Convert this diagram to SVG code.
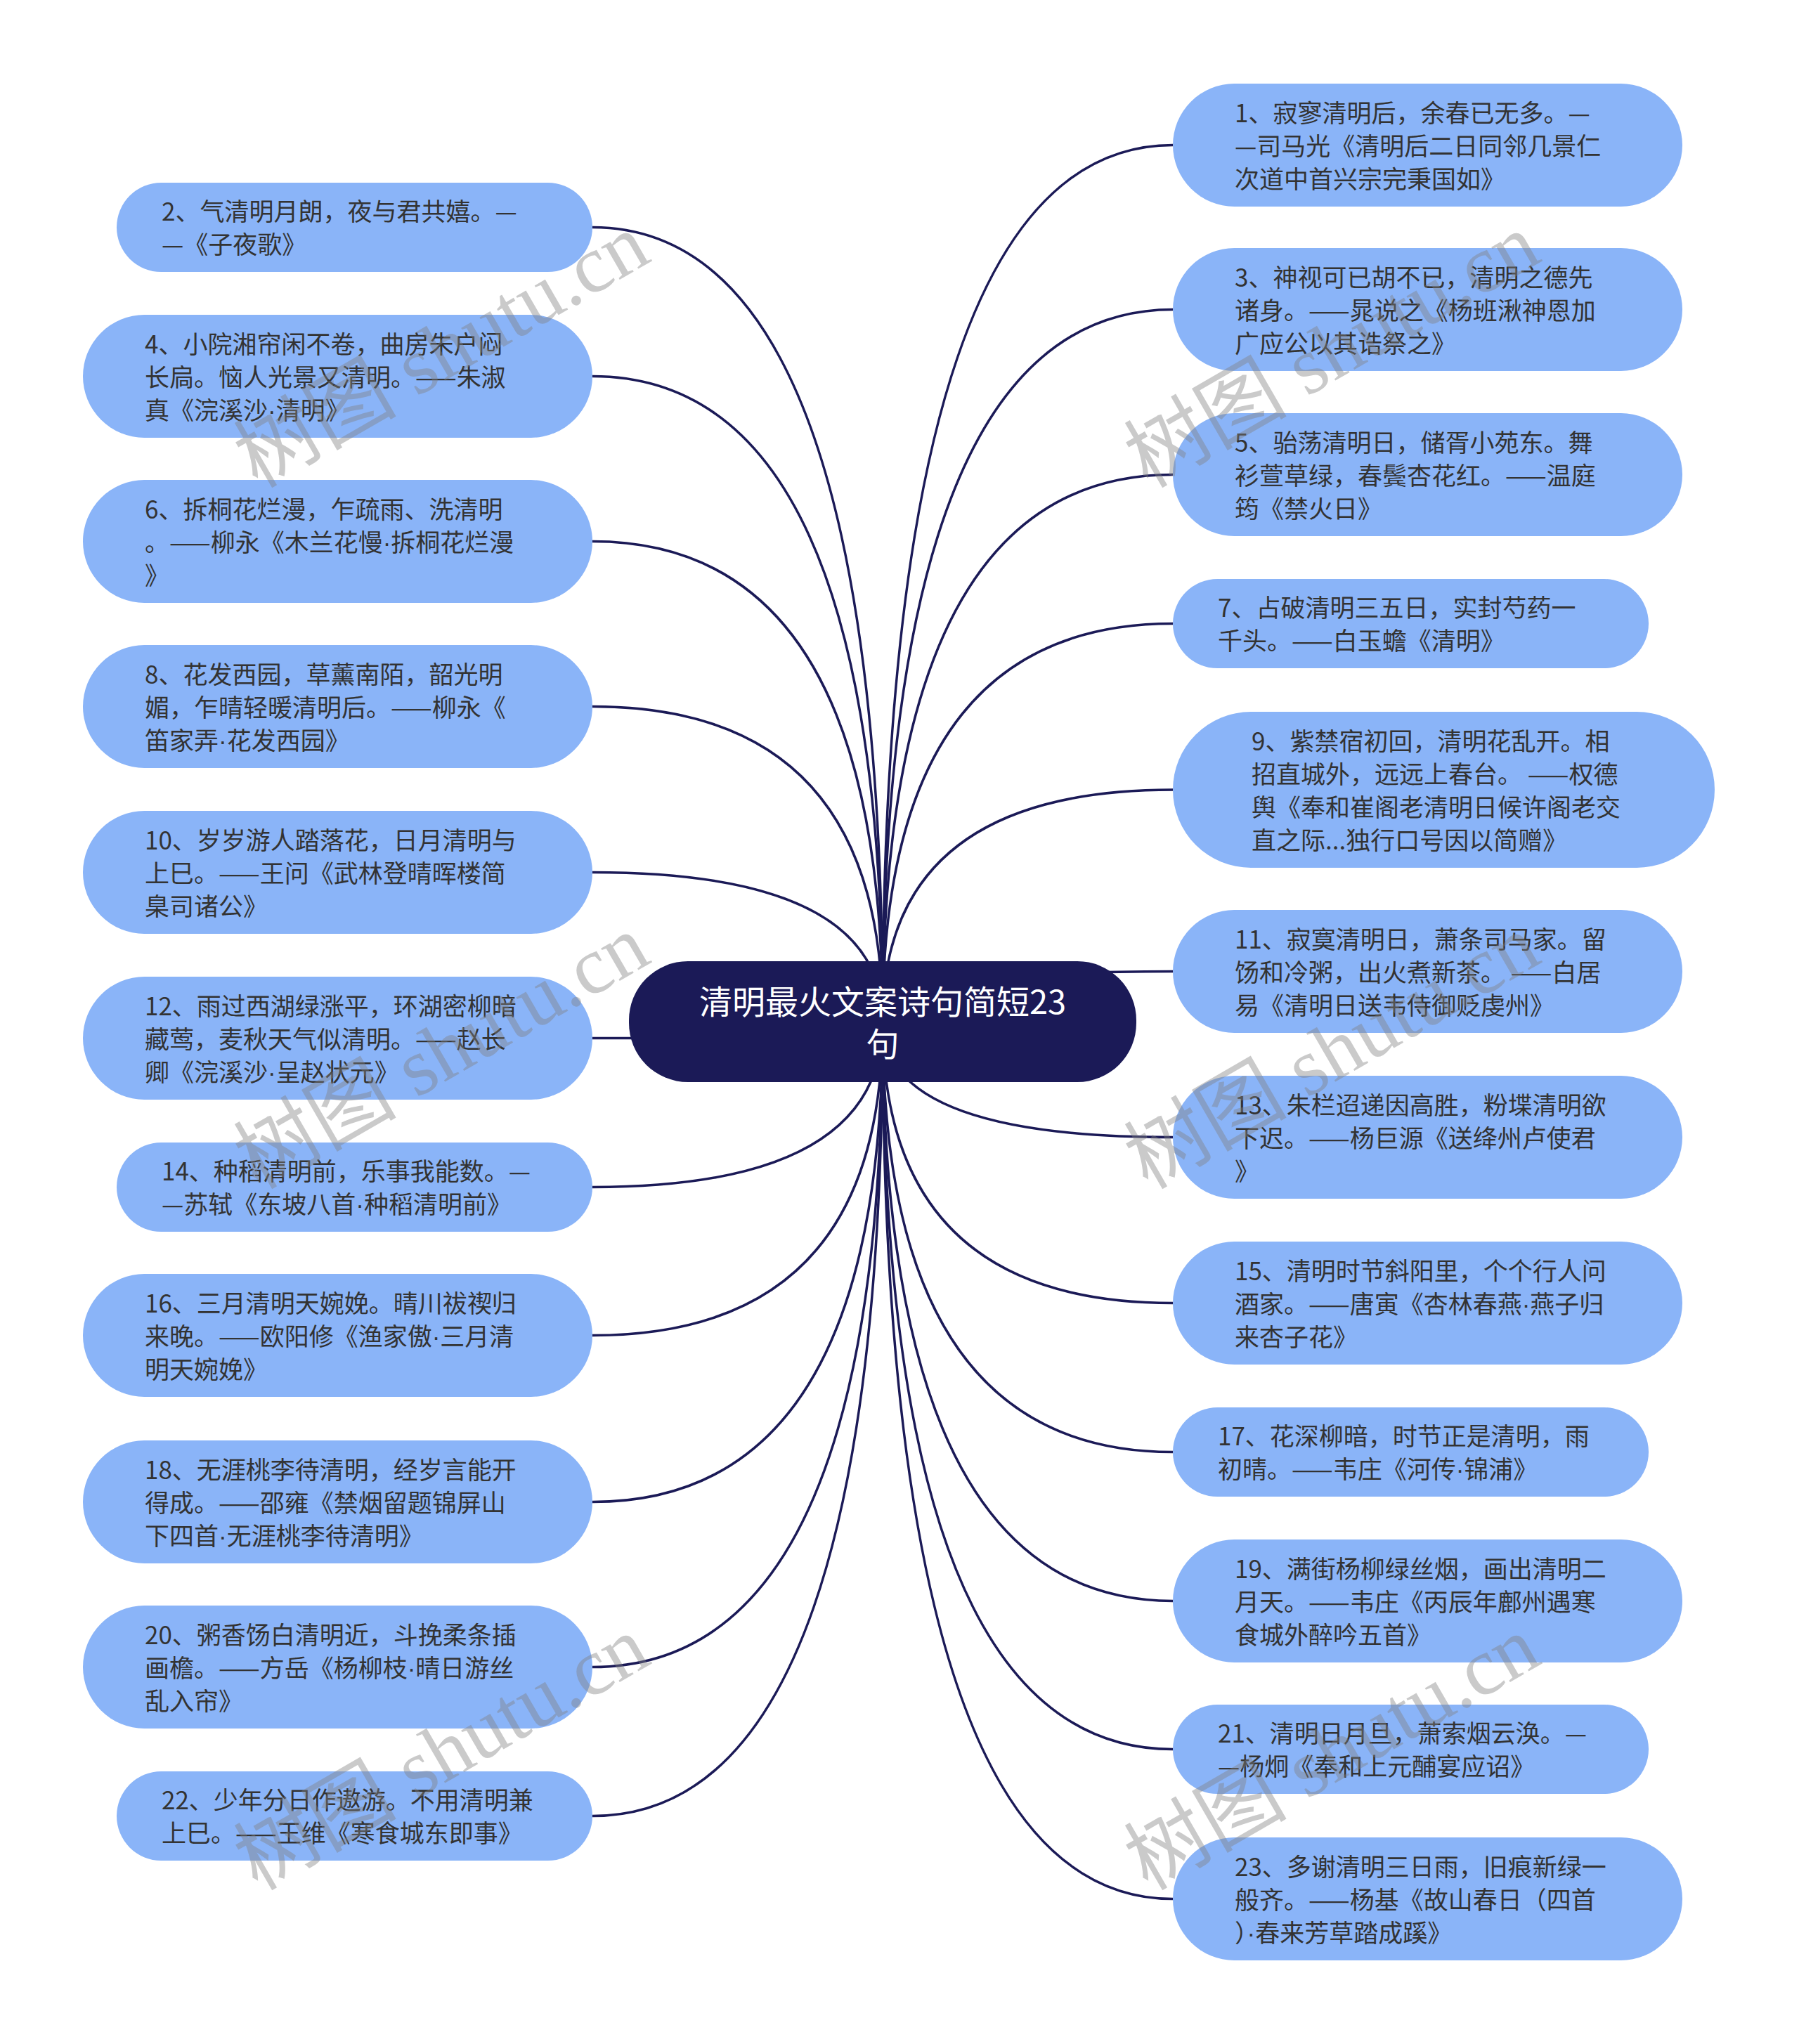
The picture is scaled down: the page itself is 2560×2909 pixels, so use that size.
<svg xmlns="http://www.w3.org/2000/svg" width="2560" height="2909" viewBox="0 0 2560 2909">
<style>
.leaf rect{fill:#8ab4f8}
.leaf text{font-family:"Noto Sans CJK SC","Noto Sans",sans-serif;font-size:35px;fill:#333333}
.d{font-family:"Liberation Sans",sans-serif}
.root rect{fill:#1b1a57}
.root text{font-family:"Noto Sans CJK SC","Noto Sans",sans-serif;font-size:47px;fill:#ffffff;text-anchor:middle}
.edge{fill:none;stroke:#1b1a57;stroke-width:3.5}
.wm{font-family:"Liberation Serif","Noto Sans CJK SC",serif;font-size:116px;fill:#808080;fill-opacity:0.42;text-anchor:middle}
</style>
<rect width="2560" height="2909" fill="#ffffff"/>
<g id="connectors">
<path class="edge" d="M1256,1454 Q1256,206.5 1669,206.5"/>
<path class="edge" d="M1256,1454 Q1256,440.5 1669,440.5"/>
<path class="edge" d="M1256,1454 Q1256,675.5 1669,675.5"/>
<path class="edge" d="M1256,1454 Q1256,887.5 1669,887.5"/>
<path class="edge" d="M1256,1454 Q1256,1124 1669,1124"/>
<path class="edge" d="M1256,1454 Q1256,1382.5 1669,1382.5"/>
<path class="edge" d="M1256,1454 Q1256,1618.5 1669,1618.5"/>
<path class="edge" d="M1256,1454 Q1256,1854.5 1669,1854.5"/>
<path class="edge" d="M1256,1454 Q1256,2066.5 1669,2066.5"/>
<path class="edge" d="M1256,1454 Q1256,2278.5 1669,2278.5"/>
<path class="edge" d="M1256,1454 Q1256,2489.5 1669,2489.5"/>
<path class="edge" d="M1256,1454 Q1256,2702.5 1669,2702.5"/>
<path class="edge" d="M1256,1454 Q1256,323.5 843,323.5"/>
<path class="edge" d="M1256,1454 Q1256,535.5 843,535.5"/>
<path class="edge" d="M1256,1454 Q1256,770.5 843,770.5"/>
<path class="edge" d="M1256,1454 Q1256,1005.5 843,1005.5"/>
<path class="edge" d="M1256,1454 Q1256,1241.5 843,1241.5"/>
<path class="edge" d="M1256,1454 Q1256,1477.5 843,1477.5"/>
<path class="edge" d="M1256,1454 Q1256,1689.5 843,1689.5"/>
<path class="edge" d="M1256,1454 Q1256,1900.5 843,1900.5"/>
<path class="edge" d="M1256,1454 Q1256,2137.5 843,2137.5"/>
<path class="edge" d="M1256,1454 Q1256,2372.5 843,2372.5"/>
<path class="edge" d="M1256,1454 Q1256,2584.5 843,2584.5"/>
</g>
<g id="root" class="root">
<rect x="895" y="1368" width="722" height="172" rx="84" ry="84"/>
<text x="1256" y="1443">清明最火文案诗句简短23</text>
<text x="1256" y="1503">句</text>
</g>
<g id="n1" class="leaf"><rect x="1669" y="119" width="725" height="175" rx="87.5"/>
<text x="1757" y="173.5">1、寂寥清明后，余春已无多。—</text><text x="1757" y="220.5">—司马光《清明后二日同邻几景仁</text><text x="1757" y="267.5">次道中首兴宗完秉国如》</text></g>
<g id="n3" class="leaf"><rect x="1669" y="353" width="725" height="175" rx="87.5"/>
<text x="1757" y="407.5">3、神视可已胡不已，清明之德先</text><text x="1757" y="454.5">诸身。——晁说之《杨班湫神恩加</text><text x="1757" y="501.5">广应公以其诰祭之》</text></g>
<g id="n5" class="leaf"><rect x="1669" y="588" width="725" height="175" rx="87.5"/>
<text x="1757" y="642.5">5、骀荡清明日，储胥小苑东。舞</text><text x="1757" y="689.5">衫萱草绿，春鬓杏花红。——温庭</text><text x="1757" y="736.5">筠《禁火日》</text></g>
<g id="n7" class="leaf"><rect x="1669" y="824" width="677" height="127" rx="63.5"/>
<text x="1733" y="878">7、占破清明三五日，实封芍药一</text><text x="1733" y="925">千头。——白玉蟾《清明》</text></g>
<g id="n9" class="leaf"><rect x="1669" y="1013" width="771" height="222" rx="111"/>
<text x="1781" y="1067.5">9、紫禁宿初回，清明花乱开。相</text><text x="1781" y="1114.5">招直城外，远远上春台。 ——权德</text><text x="1781" y="1161.5">舆《奉和崔阁老清明日候许阁老交</text><text x="1781" y="1208.5">直之际...独行口号因以简赠》</text></g>
<g id="n11" class="leaf"><rect x="1669" y="1295" width="725" height="175" rx="87.5"/>
<text x="1757" y="1349.5">11、寂寞清明日，萧条司马家。留</text><text x="1757" y="1396.5">饧和冷粥，出火煮新茶。 ——白居</text><text x="1757" y="1443.5">易《清明日送韦侍御贬虔州》</text></g>
<g id="n13" class="leaf"><rect x="1669" y="1531" width="725" height="175" rx="87.5"/>
<text x="1757" y="1585.5">13、朱栏迢递因高胜，粉堞清明欲</text><text x="1757" y="1632.5">下迟。——杨巨源《送绛州卢使君</text><text x="1757" y="1679.5">》</text></g>
<g id="n15" class="leaf"><rect x="1669" y="1767" width="725" height="175" rx="87.5"/>
<text x="1757" y="1821.5">15、清明时节斜阳里，个个行人问</text><text x="1757" y="1868.5">酒家。——唐寅《杏林春燕<tspan class="d">·</tspan>燕子归</text><text x="1757" y="1915.5">来杏子花》</text></g>
<g id="n17" class="leaf"><rect x="1669" y="2003" width="677" height="127" rx="63.5"/>
<text x="1733" y="2057">17、花深柳暗，时节正是清明，雨</text><text x="1733" y="2104">初晴。——韦庄《河传<tspan class="d">·</tspan>锦浦》</text></g>
<g id="n19" class="leaf"><rect x="1669" y="2191" width="725" height="175" rx="87.5"/>
<text x="1757" y="2245.5">19、满街杨柳绿丝烟，画出清明二</text><text x="1757" y="2292.5">月天。——韦庄《丙辰年鄜州遇寒</text><text x="1757" y="2339.5">食城外醉吟五首》</text></g>
<g id="n21" class="leaf"><rect x="1669" y="2426" width="677" height="127" rx="63.5"/>
<text x="1733" y="2480">21、清明日月旦，萧索烟云涣。—</text><text x="1733" y="2527">—杨炯《奉和上元酺宴应诏》</text></g>
<g id="n23" class="leaf"><rect x="1669" y="2615" width="725" height="175" rx="87.5"/>
<text x="1757" y="2669.5">23、多谢清明三日雨，旧痕新绿一</text><text x="1757" y="2716.5">般齐。——杨基《故山春日（四首</text><text x="1757" y="2763.5">）<tspan class="d">·</tspan>春来芳草踏成蹊》</text></g>
<g id="n2" class="leaf"><rect x="166" y="260" width="677" height="127" rx="63.5"/>
<text x="230" y="314">2、气清明月朗，夜与君共嬉。—</text><text x="230" y="361">—《子夜歌》</text></g>
<g id="n4" class="leaf"><rect x="118" y="448" width="725" height="175" rx="87.5"/>
<text x="206" y="502.5">4、小院湘帘闲不卷，曲房朱户闷</text><text x="206" y="549.5">长扃。恼人光景又清明。——朱淑</text><text x="206" y="596.5">真《浣溪沙<tspan class="d">·</tspan>清明》</text></g>
<g id="n6" class="leaf"><rect x="118" y="683" width="725" height="175" rx="87.5"/>
<text x="206" y="737.5">6、拆桐花烂漫，乍疏雨、洗清明</text><text x="206" y="784.5">。——柳永《木兰花慢<tspan class="d">·</tspan>拆桐花烂漫</text><text x="206" y="831.5">》</text></g>
<g id="n8" class="leaf"><rect x="118" y="918" width="725" height="175" rx="87.5"/>
<text x="206" y="972.5">8、花发西园，草薰南陌，韶光明</text><text x="206" y="1019.5">媚，乍晴轻暖清明后。——柳永《</text><text x="206" y="1066.5">笛家弄<tspan class="d">·</tspan>花发西园》</text></g>
<g id="n10" class="leaf"><rect x="118" y="1154" width="725" height="175" rx="87.5"/>
<text x="206" y="1208.5">10、岁岁游人踏落花，日月清明与</text><text x="206" y="1255.5">上巳。——王问《武林登晴晖楼简</text><text x="206" y="1302.5">臬司诸公》</text></g>
<g id="n12" class="leaf"><rect x="118" y="1390" width="725" height="175" rx="87.5"/>
<text x="206" y="1444.5">12、雨过西湖绿涨平，环湖密柳暗</text><text x="206" y="1491.5">藏莺，麦秋天气似清明。——赵长</text><text x="206" y="1538.5">卿《浣溪沙<tspan class="d">·</tspan>呈赵状元》</text></g>
<g id="n14" class="leaf"><rect x="166" y="1626" width="677" height="127" rx="63.5"/>
<text x="230" y="1680">14、种稻清明前，乐事我能数。—</text><text x="230" y="1727">—苏轼《东坡八首<tspan class="d">·</tspan>种稻清明前》</text></g>
<g id="n16" class="leaf"><rect x="118" y="1813" width="725" height="175" rx="87.5"/>
<text x="206" y="1867.5">16、三月清明天婉娩。晴川祓禊归</text><text x="206" y="1914.5">来晚。——欧阳修《渔家傲<tspan class="d">·</tspan>三月清</text><text x="206" y="1961.5">明天婉娩》</text></g>
<g id="n18" class="leaf"><rect x="118" y="2050" width="725" height="175" rx="87.5"/>
<text x="206" y="2104.5">18、无涯桃李待清明，经岁言能开</text><text x="206" y="2151.5">得成。——邵雍《禁烟留题锦屏山</text><text x="206" y="2198.5">下四首<tspan class="d">·</tspan>无涯桃李待清明》</text></g>
<g id="n20" class="leaf"><rect x="118" y="2285" width="725" height="175" rx="87.5"/>
<text x="206" y="2339.5">20、粥香饧白清明近，斗挽柔条插</text><text x="206" y="2386.5">画檐。——方岳《杨柳枝<tspan class="d">·</tspan>晴日游丝</text><text x="206" y="2433.5">乱入帘》</text></g>
<g id="n22" class="leaf"><rect x="166" y="2521" width="677" height="127" rx="63.5"/>
<text x="230" y="2575">22、少年分日作遨游。不用清明兼</text><text x="230" y="2622">上巳。——王维《寒食城东即事》</text></g>
<g id="watermarks">
<text class="wm" transform="translate(648,533) rotate(-30)">树图 shutu.cn</text>
<text class="wm" transform="translate(1915,533) rotate(-30)">树图 shutu.cn</text>
<text class="wm" transform="translate(648,1531) rotate(-30)">树图 shutu.cn</text>
<text class="wm" transform="translate(1915,1531) rotate(-30)">树图 shutu.cn</text>
<text class="wm" transform="translate(648,2529) rotate(-30)">树图 shutu.cn</text>
<text class="wm" transform="translate(1915,2529) rotate(-30)">树图 shutu.cn</text>
</g>
</svg>
